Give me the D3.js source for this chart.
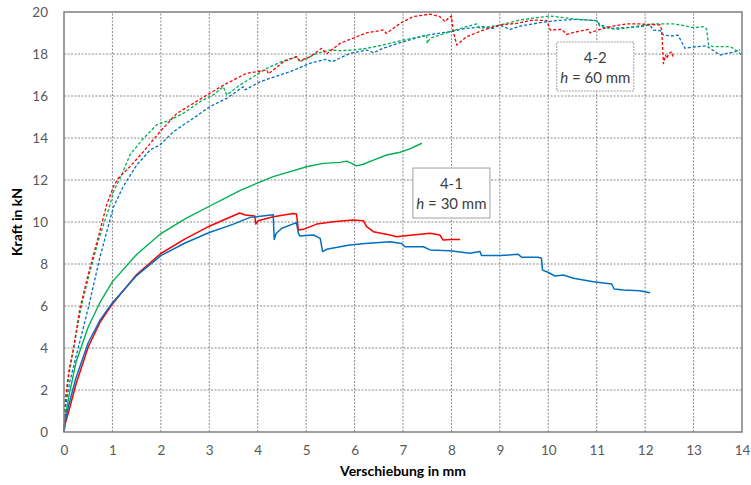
<!DOCTYPE html>
<html><head><meta charset="utf-8">
<script src="https://cdn.jsdelivr.net/npm/d3@7"></script>
<style>body{margin:0;background:#fff}svg{display:block}</style>
</head><body><div id="chart"></div>
<script>
// ---------- data ----------
const xTicks = [0,1,2,3,4,5,6,7,8,9,10,11,12,13,14];
const yTicks = [0,2,4,6,8,10,12,14,16,18,20];
const xTitle = "Verschiebung in mm";
const yTitle = "Kraft in kN";

// 4-1, h = 30 mm (solid)
const s41Blue = [[0,0],[0.02,0.45],[0.1,1.3],[0.25,2.6],[0.5,4.25],[0.75,5.35],[1.0,6.16],[1.5,7.45],[2.0,8.4],[2.5,9.0],[3.0,9.5],[3.5,9.9],[3.84,10.22],[4.32,10.35],[4.34,9.17],[4.38,9.45],[4.5,9.7],[4.80,9.97],[4.84,9.46],[4.87,9.33],[5.15,9.38],[5.29,9.22],[5.34,8.59],[5.42,8.70],[5.9,8.9],[6.22,8.98],[6.73,9.06],[6.97,8.98],[7.04,8.82],[7.42,8.82],[7.56,8.67],[7.97,8.63],[8.38,8.51],[8.59,8.59],[8.62,8.40],[9.0,8.40],[9.38,8.46],[9.45,8.32],[9.79,8.32],[9.86,8.27],[9.88,7.71],[9.97,7.63],[10.14,7.43],[10.31,7.48],[10.52,7.32],[10.93,7.16],[11.31,7.05],[11.36,6.81],[11.55,6.76],[11.89,6.73],[12.1,6.63]];
const s41Red = [[0,0],[0.02,0.35],[0.1,1.0],[0.25,2.3],[0.5,4.05],[0.75,5.25],[1.0,6.1],[1.5,7.5],[2.0,8.5],[2.5,9.2],[3.0,9.8],[3.4,10.2],[3.63,10.43],[3.74,10.33],[3.94,10.29],[3.96,9.90],[4.01,10.06],[4.32,10.25],[4.73,10.41],[4.80,10.38],[4.84,9.62],[4.94,9.65],[5.22,9.90],[5.56,10.01],[5.97,10.10],[6.18,10.06],[6.25,9.78],[6.39,9.54],[6.73,9.38],[6.87,9.30],[7.0,9.33],[7.56,9.46],[7.76,9.38],[7.83,9.14],[8.0,9.17],[8.18,9.17]];
const s41Green = [[0,0],[0.02,0.6],[0.1,1.7],[0.25,3.35],[0.5,5.0],[0.75,6.2],[1.0,7.16],[1.5,8.45],[2.0,9.45],[2.5,10.15],[3.0,10.75],[3.26,11.05],[3.63,11.49],[3.98,11.84],[4.32,12.16],[4.67,12.4],[5.01,12.63],[5.35,12.79],[5.70,12.84],[5.84,12.9],[5.94,12.79],[6.04,12.67],[6.18,12.75],[6.39,12.95],[6.66,13.19],[6.94,13.32],[7.14,13.48],[7.39,13.75]];

// 4-2, h = 60 mm (dashed)
const s42Red = [[0,0],[0.03,1.5],[0.1,2.9],[0.19,3.9],[0.33,5.9],[0.50,7.5],[0.71,9.3],[0.88,10.81],[1.02,11.68],[1.12,12.08],[1.36,12.63],[1.64,13.35],[1.98,14.3],[2.33,15.17],[2.67,15.65],[3.01,16.13],[3.36,16.6],[3.77,17.08],[3.98,17.16],[4.19,17.24],[4.22,17.05],[4.53,17.63],[4.80,17.87],[4.87,17.68],[5.08,17.87],[5.32,18.27],[5.42,18.0],[5.70,18.51],[6.04,18.82],[6.25,19.01],[6.59,19.14],[6.66,18.98],[6.94,19.46],[7.21,19.78],[7.56,19.9],[7.76,19.78],[7.87,19.54],[7.94,19.71],[8.0,19.81],[8.04,19.06],[8.11,18.43],[8.31,18.82],[8.66,19.14],[9.0,19.38],[9.35,19.46],[9.69,19.62],[9.97,19.59],[10.04,19.14],[10.28,19.17],[10.38,18.94],[10.59,19.06],[10.83,19.17],[10.86,19.01],[11.07,19.17],[11.34,19.33],[11.62,19.43],[11.89,19.43],[12.31,19.38],[12.34,19.14],[12.38,17.54],[12.42,17.95],[12.45,17.79],[12.49,18.03],[12.55,18.11],[12.58,17.79]];
const s42Green = [[0,0],[0.03,1.5],[0.1,2.7],[0.2,4.0],[0.35,5.9],[0.52,7.5],[0.72,9.2],[0.95,10.81],[1.02,11.44],[1.19,12.24],[1.36,13.19],[1.64,13.98],[1.91,14.62],[2.19,14.86],[2.46,15.17],[2.81,15.73],[3.08,16.05],[3.29,16.44],[3.36,16.05],[3.63,16.52],[3.91,16.92],[4.19,17.32],[4.53,17.67],[4.80,17.87],[4.87,17.63],[5.22,18.03],[5.49,18.19],[5.70,18.16],[5.97,18.19],[6.25,18.27],[6.59,18.43],[6.94,18.63],[7.28,18.79],[7.49,18.9],[7.50,18.51],[7.56,18.75],[7.97,19.06],[8.31,19.3],[8.52,19.43],[8.59,19.22],[9.0,19.38],[9.35,19.59],[9.69,19.71],[10.04,19.81],[10.24,19.75],[10.59,19.65],[11.0,19.59],[11.07,19.3],[11.41,19.17],[11.76,19.3],[12.17,19.43],[12.58,19.43],[12.75,19.38],[13.0,19.25],[13.2,19.3],[13.27,19.19],[13.31,18.43],[13.41,18.35],[13.75,18.35],[13.82,18.27],[13.92,18.11],[13.99,17.95]];
const s42Blue = [[0,0],[0.03,1.2],[0.12,2.4],[0.25,3.6],[0.5,5.9],[0.75,8.4],[1.02,10.7],[1.22,11.68],[1.50,12.71],[1.78,13.43],[1.98,13.67],[2.26,14.3],[2.67,14.94],[3.01,15.49],[3.36,15.89],[3.70,16.44],[3.74,16.29],[4.05,16.68],[4.25,16.84],[4.67,17.16],[5.08,17.56],[5.42,17.75],[5.53,17.63],[5.91,18.03],[6.25,18.19],[6.39,18.06],[6.59,18.27],[6.94,18.54],[7.49,18.9],[7.97,19.06],[8.31,19.22],[8.66,19.3],[8.86,19.22],[9.0,19.38],[9.21,19.17],[9.42,19.33],[9.83,19.49],[10.17,19.59],[10.59,19.65],[11.0,19.59],[11.07,19.38],[11.34,19.22],[11.89,19.3],[12.1,19.38],[12.17,19.14],[12.31,19.11],[12.38,18.9],[12.58,18.86],[12.68,18.9],[12.75,18.59],[12.82,18.27],[13.06,18.35],[13.27,18.39],[13.34,18.27],[13.55,17.95],[13.68,18.03],[13.82,18.08],[13.96,18.19]];

const series = [
  {data: s42Blue, color: "#0070C0", dash: "3,2", width: 1.3},
  {data: s42Green, color: "#00B050", dash: "3,2", width: 1.3},
  {data: s42Red, color: "#FF0000", dash: "3,2", width: 1.3},
  {data: s41Green, color: "#00B050", dash: null, width: 1.4},
  {data: s41Red, color: "#FF0000", dash: null, width: 1.5},
  {data: s41Blue, color: "#0070C0", dash: null, width: 1.5}
];
const labels = [
  {x: 10.97, y: 18.57, w: 77, h: 49, lines: ["4-2", "60"], dashed: true},
  {x: 8.0, y: 12.57, w: 77, h: 50, lines: ["4-1", "30"], dashed: false}
];

// ---------- chart ----------
const W = 751, H = 485;
const m = {left: 64, right: 9, top: 12, bottom: 53};
const svg = d3.select("#chart").append("svg").attr("width", W).attr("height", H);
const x = d3.scaleLinear().domain([0, 14]).range([m.left, W - m.right]);
const y = d3.scaleLinear().domain([0, 20]).range([H - m.bottom, m.top]);
const font = "Lato, 'Open Sans', sans-serif";

// gridlines
svg.append("g").selectAll("line.h").data(yTicks.filter(d => d > 0 && d < 20)).join("line")
  .attr("x1", x(0)).attr("x2", x(14)).attr("y1", d => y(d)).attr("y2", d => y(d))
  .attr("stroke", "#8a8a8a").attr("stroke-width", 1).attr("stroke-dasharray", "2,1.5");
svg.append("g").selectAll("line.v").data(xTicks.filter(d => d > 0 && d < 14)).join("line")
  .attr("x1", d => x(d)).attr("x2", d => x(d)).attr("y1", y(0)).attr("y2", y(20))
  .attr("stroke", "#8a8a8a").attr("stroke-width", 1).attr("stroke-dasharray", "2,1.5");

// label boxes (behind lines)
labels.forEach(l => {
  const bx = x(l.x) - l.w / 2, by = y(l.y);
  svg.append("rect").attr("x", bx).attr("y", by).attr("width", l.w).attr("height", l.h)
    .attr("fill", "#fff").attr("stroke", "#a0a0a0").attr("stroke-width", 1)
    .attr("stroke-dasharray", l.dashed ? "2,1" : null);
  svg.append("text").attr("x", x(l.x)).attr("y", by + 21).attr("text-anchor", "middle")
    .attr("font-family", font).attr("font-size", 15).attr("fill", "#404040").text(l.lines[0]);
  const t = svg.append("text").attr("x", x(l.x)).attr("y", by + 41).attr("text-anchor", "middle")
    .attr("font-family", font).attr("font-size", 15).attr("fill", "#404040");
  t.append("tspan").attr("font-style", "italic").text("h");
  t.append("tspan").text(" = " + l.lines[1] + " mm");
});

// lines
const line = d3.line().x(d => x(d[0])).y(d => y(d[1]));
svg.append("g").selectAll("path").data(series).join("path")
  .attr("d", d => line(d.data)).attr("fill", "none")
  .attr("stroke", d => d.color).attr("stroke-width", d => d.width)
  .attr("stroke-dasharray", d => d.dash).attr("stroke-linejoin", "round");

// frame
svg.append("rect").attr("x", x(0)).attr("y", y(20)).attr("width", x(14) - x(0)).attr("height", y(0) - y(20))
  .attr("fill", "none").attr("stroke", "#7f7f7f").attr("stroke-width", 1.5);

// axes (labels only)
const xAxis = d3.axisBottom(x).tickValues(xTicks).tickSize(0).tickPadding(13);
const gx = svg.append("g").attr("transform", `translate(0,${y(0)})`).call(xAxis);
const yAxis = d3.axisLeft(y).tickValues(yTicks).tickSize(0).tickPadding(16);
const gy = svg.append("g").attr("transform", `translate(${x(0)},0)`).call(yAxis);
[gx, gy].forEach(g => {
  g.select(".domain").remove();
  g.selectAll("text").attr("font-family", font).attr("font-size", 13.5).attr("fill", "#595959");
});

svg.append("text").attr("x", (x(0) + x(14)) / 2).attr("y", 476).attr("text-anchor", "middle")
  .attr("font-family", font).attr("font-size", 14).attr("font-weight", "bold").attr("fill", "#000").text(xTitle);
svg.append("text").attr("transform", `translate(22,${(y(0) + y(20)) / 2}) rotate(-90)`).attr("text-anchor", "middle")
  .attr("font-family", font).attr("font-size", 14).attr("font-weight", "bold").attr("fill", "#000").text(yTitle);
</script>
</body></html>
